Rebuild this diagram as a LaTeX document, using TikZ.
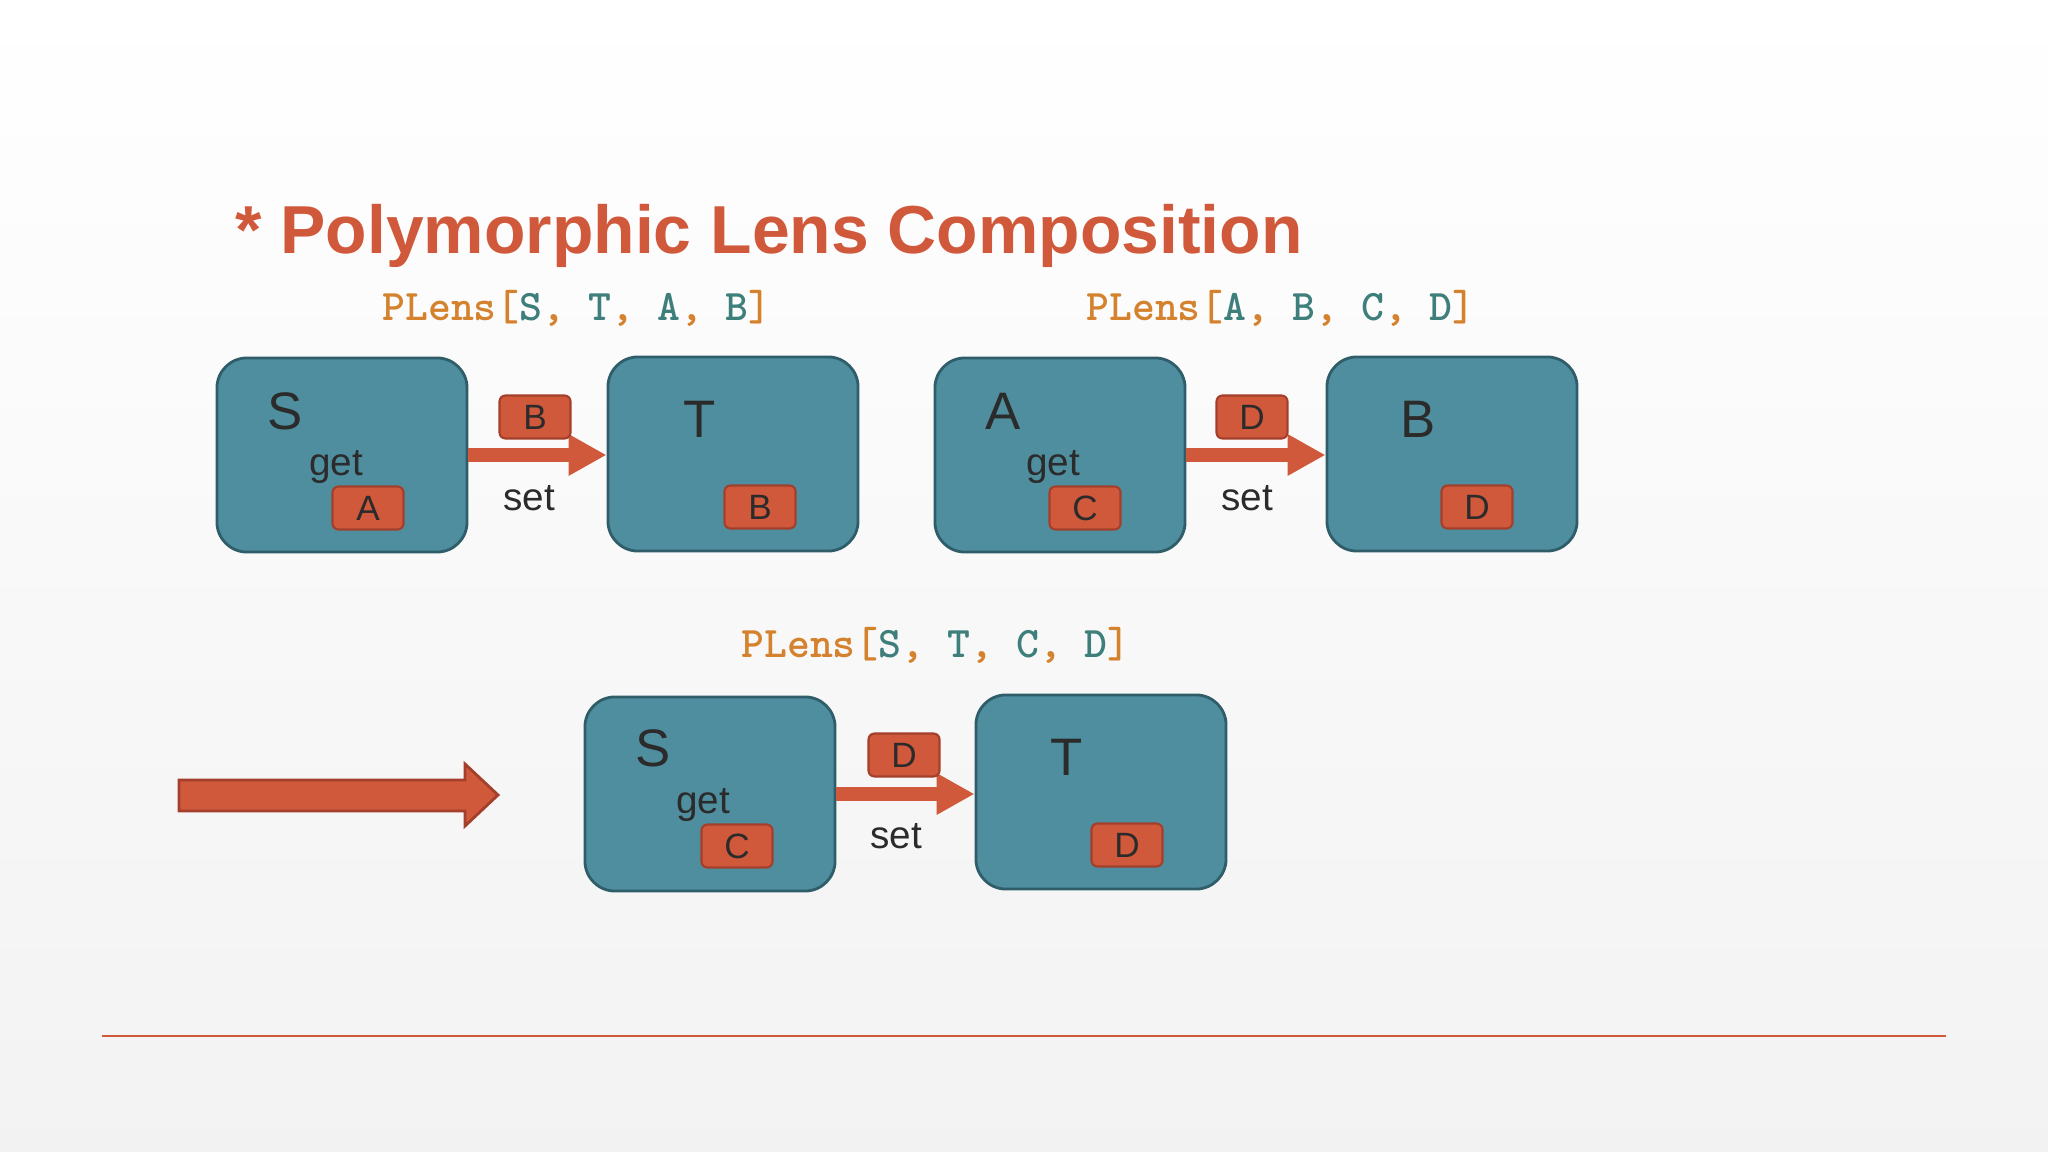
\documentclass[tikz,border=0pt]{standalone}
\usepackage{fontspec}
\setmainfont{Liberation Sans}
\usetikzlibrary{arrows.meta,positioning}

\definecolor{lensteal}{HTML}{4F8E9E}
\definecolor{lensedge}{HTML}{2F5E6A}
\definecolor{lensred}{HTML}{D0593C}
\definecolor{lensreddark}{HTML}{A33F2A}
\definecolor{typeorange}{HTML}{D5822F}
\definecolor{typeteal}{HTML}{3E7F7B}
\definecolor{inkgray}{HTML}{2B2B2B}

\newcommand{\plenslabel}[4]{\textcolor{typeorange}{PLens[}\textcolor{typeteal}{#1}\textcolor{typeorange}{, }\textcolor{typeteal}{#2}\textcolor{typeorange}{, }\textcolor{typeteal}{#3}\textcolor{typeorange}{, }\textcolor{typeteal}{#4}\textcolor{typeorange}{]}}

\tikzset{
    lensbox/.style={draw=lensedge,fill=lensteal,line width=0.8pt,rounded corners=0.3cm,
        minimum width=2.5cm,minimum height=1.94cm,inner sep=0pt},
    tagbox/.style={draw=lensreddark,fill=lensred,line width=0.6pt,rounded corners=0.06cm,
        minimum width=0.71cm,minimum height=0.43cm,inner sep=0pt,text=inkgray,
        font=\fontsize{10}{12}\selectfont},
    bigletter/.style={text=inkgray,font=\fontsize{15}{18}\selectfont},
    smallword/.style={text=inkgray,font=\fontsize{11}{13}\selectfont},
    typelabel/.style={font=\ttfamily\bfseries\fontsize{12.4}{14}\selectfont},
    setarrow/.style={draw=lensred,line width=0.13cm,-{Triangle[length=0.38cm,width=0.39cm]}},
}

\begin{document}
\begin{tikzpicture}[x=0.01cm,y=-0.01cm]

    % Page and background
    \useasboundingbox (0,0) rectangle (2048,1152);
    \shade [top color=white,bottom color=black!5] (0,0) rectangle (2048,1152);

    % Title
    \node [anchor=base west,text=lensred,font=\bfseries\fontsize{19.3}{23}\selectfont] (title)
        at (223,254) {* Polymorphic Lens Composition};

    % Type labels
    \node [typelabel] (typeone) at (577,308) {\plenslabel{S}{T}{A}{B}};
    \node [typelabel] (typetwo) at (1281,308) {\plenslabel{A}{B}{C}{D}};
    \node [typelabel] (typethree) at (936,645) {\plenslabel{S}{T}{C}{D}};

    % First lens: S -> T
    \node [lensbox] (souter) at (342,455) {};
    \node [lensbox] (touter) at (733,454) {};
    \node [bigletter] (sname) at (285,411) {S};
    \node [smallword] (sget) at (336,467) {get};
    \node [tagbox] (stag) at (368,508) {A};
    \node [bigletter] (tname) at (700,419) {T};
    \node [tagbox] (ttag) at (760,507) {B};
    \draw [setarrow] (souter.east) -- (souter.east -| touter.west);
    \node [tagbox] (settagone) at (535,417) {B};
    \node [smallword] (setone) at (529,498) {set};

    % Second lens: A -> B
    \node [lensbox] (aouter) at (1060,455) {};
    \node [lensbox] (bouter) at (1452,454) {};
    \node [bigletter] (aname) at (1003,411) {A};
    \node [smallword] (aget) at (1053,467) {get};
    \node [tagbox] (atag) at (1085,508) {C};
    \node [bigletter] (bname) at (1418,419) {B};
    \node [tagbox] (btag) at (1477,507) {D};
    \draw [setarrow] (aouter.east) -- (aouter.east -| bouter.west);
    \node [tagbox] (settagtwo) at (1252,417) {D};
    \node [smallword] (settwo) at (1247,498) {set};

    % Composed lens: S -> T
    \node [lensbox] (scomp) at (710,794) {};
    \node [lensbox] (tcomp) at (1101,792) {};
    \node [bigletter] (scompname) at (653,748) {S};
    \node [smallword] (scompget) at (703,805) {get};
    \node [tagbox] (scomptag) at (737,846) {C};
    \node [bigletter] (tcompname) at (1067,757) {T};
    \node [tagbox] (tcomptag) at (1127,845) {D};
    \draw [setarrow] (scomp.east) -- (scomp.east -| tcomp.west);
    \node [tagbox] (settagthree) at (904,755) {D};
    \node [smallword] (setthree) at (896,836) {set};

    % Big "results in" arrow
    \filldraw [fill=lensred,draw=lensreddark,line width=0.8pt]
        (179,780) -- (465,780) -- (465,764) -- (498,795) -- (465,826) -- (465,811) -- (179,811) -- cycle;

    % Footer rule
    \draw [lensred,line width=0.6pt] (102,1036) -- (1946,1036);

\end{tikzpicture}
\end{document}
